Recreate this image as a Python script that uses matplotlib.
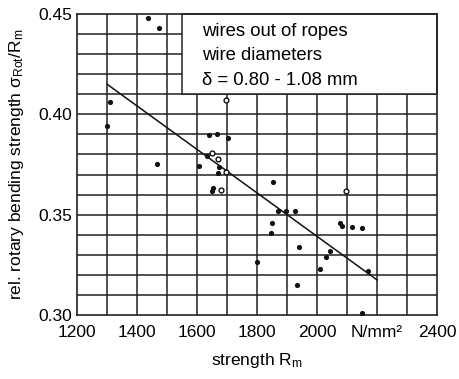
import matplotlib
matplotlib.use("Agg")
import matplotlib.pyplot as plt
from matplotlib.patches import Rectangle
import numpy as np

plt.rcParams['font.family'] = ['Liberation Sans', 'DejaVu Sans']
plt.rcParams['mathtext.fontset'] = 'custom'
plt.rcParams['mathtext.rm'] = 'Liberation Sans'
plt.rcParams['mathtext.it'] = 'Liberation Sans'

# filled points
filled_x = [1438, 1474, 1310, 1299, 1465, 1641, 1667, 1702, 1632, 1608, 1672, 1670,
            1649, 1652, 1800, 1852, 1871, 1897, 1926, 1849, 1846, 2077, 2082, 2116,
            2150, 1941, 2043, 2030, 2011, 2169, 1934, 2150]
filled_y = [0.448, 0.443, 0.406, 0.394, 0.375, 0.3895, 0.390, 0.388, 0.379, 0.374, 0.3737, 0.371,
            0.362, 0.3635, 0.3265, 0.3665, 0.352, 0.352, 0.352, 0.3457, 0.341, 0.3457, 0.3445, 0.344,
            0.3435, 0.3337, 0.332, 0.329, 0.323, 0.322, 0.315, 0.301]
# open points
open_x = [1697, 1651, 1671, 1696, 1679, 2098]
open_y = [0.407, 0.3807, 0.3778, 0.3712, 0.3625, 0.362]
# regression line endpoints
line_x = [1300, 2200]
line_y = [0.415, 0.3175]

xticks = [1200, 1400, 1600, 1800, 2000, 2200, 2400]
xticklabels = ['1200', '1400', '1600', '1800', '2000', 'N/mm²', '2400']
yticks = [0.30, 0.35, 0.40, 0.45]
yticklabels = ['0.30', '0.35', '0.40', '0.45']
legend_lines = ['wires out of ropes', 'wire diameters', 'δ = 0.80 - 1.08 mm']

fig = plt.figure(figsize=(4.59, 3.79), dpi=100)
ax = fig.add_axes([0.168, 0.169, 0.784, 0.794])
ax.set_xlim(1200, 2400)
ax.set_ylim(0.30, 0.45)

for gx in np.arange(1300, 2400, 100):
    ax.axvline(gx, color='#222222', lw=1.1, zorder=1)
for gy in np.arange(0.31, 0.4499, 0.01):
    ax.axhline(gy, color='#222222', lw=1.1, zorder=1)

ax.add_patch(Rectangle((1550, 0.41), 850, 0.04, facecolor='white', edgecolor='#222222',
                       lw=1.1, zorder=2, clip_on=False))

ax.plot(line_x, line_y, color='#111111', lw=1.1, zorder=3)
ax.scatter(filled_x, filled_y, s=14, color='#111111', zorder=4, linewidths=0)
ax.scatter(open_x, open_y, s=12, facecolors='white', edgecolors='#111111', linewidths=1.0, zorder=4)

tx = 1617
for i, t in enumerate(legend_lines):
    ax.text(tx, 0.4415 - i * 0.0122, t, fontsize=13.3, va='center', ha='left', zorder=5)

ax.set_xticks(xticks)
ax.set_xticklabels(xticklabels, fontsize=12.5)
ax.set_yticks(yticks)
ax.set_yticklabels(yticklabels, fontsize=12.5)
ax.tick_params(axis='x', length=0, pad=7)
ax.tick_params(axis='y', length=0, pad=3.5)
for s in ax.spines.values():
    s.set_color('#222222')
    s.set_linewidth(1.2)

ax.set_xlabel('strength R$_\\mathrm{m}$', fontsize=12.5, labelpad=8)
ax.set_ylabel('rel. rotary bending strength σ$_\\mathrm{Rot}$/R$_\\mathrm{m}$', fontsize=12.5, labelpad=9)

fig.savefig('out.png', dpi=100)
